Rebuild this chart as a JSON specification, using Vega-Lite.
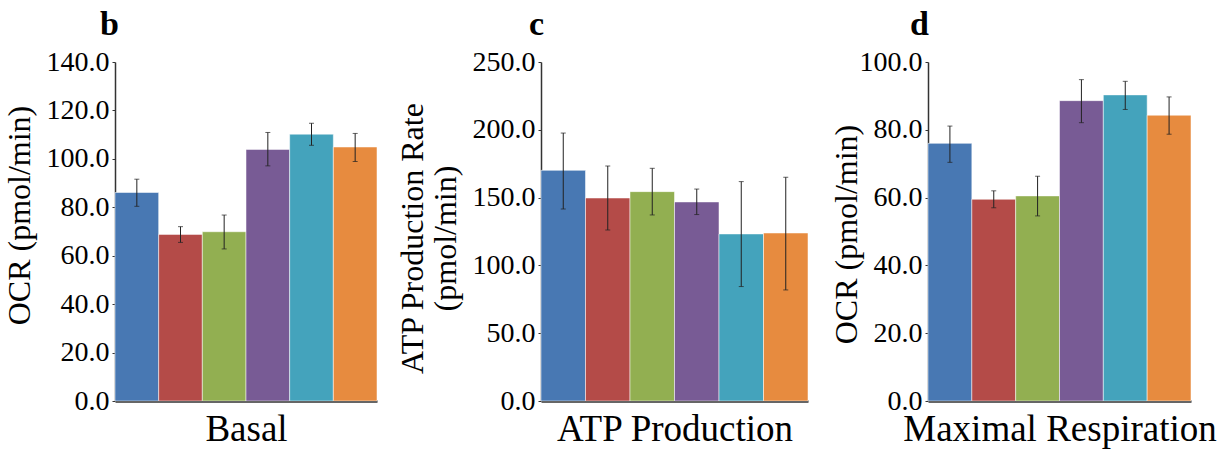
{
  "$schema": "https://vega.github.io/schema/vega-lite/v6.json",
  "padding": {"left": 2, "top": 8, "right": 2, "bottom": 2},
  "background": "white",
  "config": {
    "font": "Liberation Serif",
    "view": {"stroke": null},
    "axis": {"grid": false, "labelColor": "#000", "titleColor": "#000", "titleFontWeight": "normal"},
    "axisY": {"labelFontSize": 28, "titleFontSize": 32, "tickSize": 3, "tickColor": "#333", "domainColor": "#333", "domainWidth": 1.5, "labelPadding": 3, "titleLineHeight": 33, "titleBaseline": "bottom", "titleAngle": -90, "titleAlign": "center"},
    "axisX": {"labels": false, "ticks": false, "titleFontSize": 37, "domainColor": "#333", "domainWidth": 2.5, "titlePadding": 10},
    "title": {"fontSize": 34, "fontWeight": "bold", "color": "#000", "anchor": "start", "frame": "group", "dy": -2}
  },
  "data": {"values": [
    {"panel": "b", "group": "G1", "value": 86.1, "lo": 80.4, "hi": 91.6},
    {"panel": "b", "group": "G2", "value": 68.8, "lo": 65.5, "hi": 72.0},
    {"panel": "b", "group": "G3", "value": 69.9, "lo": 62.8, "hi": 76.8},
    {"panel": "b", "group": "G4", "value": 103.9, "lo": 97.1, "hi": 110.9},
    {"panel": "b", "group": "G5", "value": 110.2, "lo": 105.6, "hi": 114.7},
    {"panel": "b", "group": "G6", "value": 104.9, "lo": 98.9, "hi": 110.5},
    {"panel": "c", "group": "G1", "value": 170.1, "lo": 141.6, "hi": 197.6},
    {"panel": "c", "group": "G2", "value": 149.7, "lo": 126.1, "hi": 173.3},
    {"panel": "c", "group": "G3", "value": 154.4, "lo": 137.2, "hi": 171.6},
    {"panel": "c", "group": "G4", "value": 146.8, "lo": 137.5, "hi": 156.3},
    {"panel": "c", "group": "G5", "value": 123.2, "lo": 84.4, "hi": 161.8},
    {"panel": "c", "group": "G6", "value": 123.9, "lo": 81.9, "hi": 165.0},
    {"panel": "d", "group": "G1", "value": 76.0, "lo": 70.4, "hi": 81.1},
    {"panel": "d", "group": "G2", "value": 59.5, "lo": 57.0, "hi": 62.0},
    {"panel": "d", "group": "G3", "value": 60.5, "lo": 54.6, "hi": 66.3},
    {"panel": "d", "group": "G4", "value": 88.6, "lo": 82.1, "hi": 94.8},
    {"panel": "d", "group": "G5", "value": 90.3, "lo": 86.0, "hi": 94.3},
    {"panel": "d", "group": "G6", "value": 84.3, "lo": 78.7, "hi": 89.7}
  ]},
  "spacing": 17,
  "hconcat": [
    {
      "width": 262, "height": 339,
      "title": {"text": "b", "dx": -15},
      "transform": [{"filter": "datum.panel === 'b'"}],
      "encoding": {"x": {"field": "group", "type": "nominal", "sort": ["G1","G2","G3","G4","G5","G6"], "scale": {"paddingInner": 0, "paddingOuter": 0}, "axis": {"title": "Basal"}}},
      "layer": [
        {"mark": {"type": "bar", "stroke": "#ffffff", "strokeWidth": 1, "strokeOpacity": 0.5},
         "encoding": {
           "y": {"field": "value", "type": "quantitative", "title": "OCR (pmol/min)", "scale": {"domain": [0, 140], "nice": false}, "axis": {"values": [0,20,40,60,80,100,120,140], "format": ".1f", "titleX": -79, "titleY": 153}},
           "color": {"field": "group", "type": "nominal", "scale": {"domain": ["G1","G2","G3","G4","G5","G6"], "range": ["#4878B3","#B44B48","#92AF51","#785B95","#44A3BC","#E78B3F"]}, "legend": null}}},
        {"mark": {"type": "rule", "color": "#222", "strokeWidth": 1},
         "encoding": {"y": {"field": "lo", "type": "quantitative", "title": "OCR (pmol/min)"}, "y2": {"field": "hi"}}},
        {"mark": {"type": "tick", "color": "#222", "size": 5, "thickness": 1},
         "encoding": {"y": {"field": "lo", "type": "quantitative", "title": "OCR (pmol/min)"}}},
        {"mark": {"type": "tick", "color": "#222", "size": 5, "thickness": 1},
         "encoding": {"y": {"field": "hi", "type": "quantitative", "title": "OCR (pmol/min)"}}}
      ]
    },
    {
      "spacing": 21,
      "hconcat": [
        {
          "width": 267, "height": 339,
          "title": {"text": "c", "dx": -12},
          "transform": [{"filter": "datum.panel === 'c'"}],
          "encoding": {"x": {"field": "group", "type": "nominal", "sort": ["G1","G2","G3","G4","G5","G6"], "scale": {"paddingInner": 0, "paddingOuter": 0}, "axis": {"title": "ATP Production"}}},
          "layer": [
            {"mark": {"type": "bar", "stroke": "#ffffff", "strokeWidth": 1, "strokeOpacity": 0.5},
             "encoding": {
               "y": {"field": "value", "type": "quantitative", "title": ["ATP Production Rate", "(pmol/min)"], "scale": {"domain": [0, 250], "nice": false}, "axis": {"values": [0,50,100,150,200,250], "format": ".1f", "titleX": -112, "titleY": 176}},
               "color": {"field": "group", "type": "nominal", "scale": {"domain": ["G1","G2","G3","G4","G5","G6"], "range": ["#4878B3","#B44B48","#92AF51","#785B95","#44A3BC","#E78B3F"]}, "legend": null}}},
            {"mark": {"type": "rule", "color": "#222", "strokeWidth": 1},
             "encoding": {"y": {"field": "lo", "type": "quantitative", "title": ["ATP Production Rate", "(pmol/min)"]}, "y2": {"field": "hi"}}},
            {"mark": {"type": "tick", "color": "#222", "size": 5, "thickness": 1},
             "encoding": {"y": {"field": "lo", "type": "quantitative", "title": ["ATP Production Rate", "(pmol/min)"]}}},
            {"mark": {"type": "tick", "color": "#222", "size": 5, "thickness": 1},
             "encoding": {"y": {"field": "hi", "type": "quantitative", "title": ["ATP Production Rate", "(pmol/min)"]}}}
          ]
        },
        {
          "width": 263, "height": 339,
          "title": {"text": "d", "dx": -18},
          "transform": [{"filter": "datum.panel === 'd'"}],
          "encoding": {"x": {"field": "group", "type": "nominal", "sort": ["G1","G2","G3","G4","G5","G6"], "scale": {"paddingInner": 0, "paddingOuter": 0}, "axis": {"title": "Maximal Respiration"}}},
          "layer": [
            {"mark": {"type": "bar", "stroke": "#ffffff", "strokeWidth": 1, "strokeOpacity": 0.5},
             "encoding": {
               "y": {"field": "value", "type": "quantitative", "title": "OCR (pmol/min)", "scale": {"domain": [0, 100], "nice": false}, "axis": {"values": [0,20,40,60,80,100], "format": ".1f", "titleX": -65, "titleY": 172}},
               "color": {"field": "group", "type": "nominal", "scale": {"domain": ["G1","G2","G3","G4","G5","G6"], "range": ["#4878B3","#B44B48","#92AF51","#785B95","#44A3BC","#E78B3F"]}, "legend": null}}},
            {"mark": {"type": "rule", "color": "#222", "strokeWidth": 1},
             "encoding": {"y": {"field": "lo", "type": "quantitative", "title": "OCR (pmol/min)"}, "y2": {"field": "hi"}}},
            {"mark": {"type": "tick", "color": "#222", "size": 5, "thickness": 1},
             "encoding": {"y": {"field": "lo", "type": "quantitative", "title": "OCR (pmol/min)"}}},
            {"mark": {"type": "tick", "color": "#222", "size": 5, "thickness": 1},
             "encoding": {"y": {"field": "hi", "type": "quantitative", "title": "OCR (pmol/min)"}}}
          ]
        }
      ]
    }
  ]
}
